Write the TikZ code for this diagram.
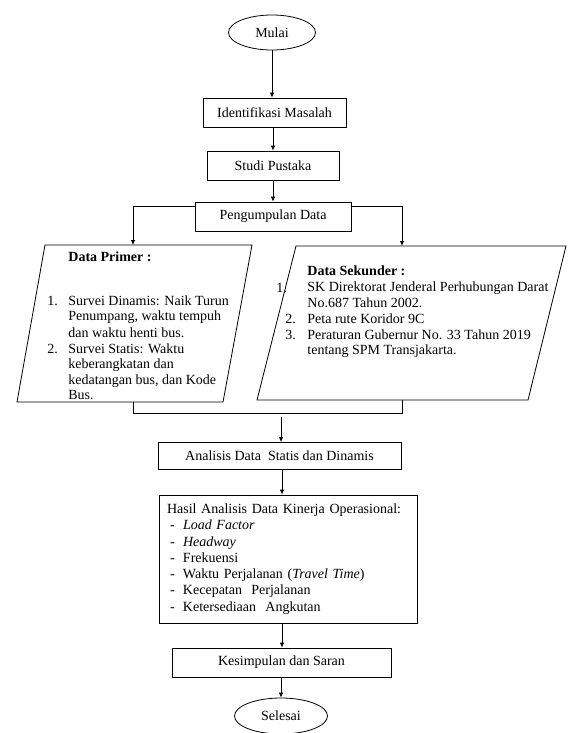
\documentclass[tikz,border=0pt]{standalone}
\usepackage{fontspec}
\setmainfont{Liberation Serif}
\usetikzlibrary{arrows.meta,shapes.geometric,calc}
\begin{document}
\begin{tikzpicture}[x=1pt,y=-1pt,
  font=\fontsize{14}{16}\selectfont,
  line width=0.8pt,
  arr/.style={-{Latex[length=5pt,width=4.5pt]}},
  procbox/.style={draw, rectangle, inner sep=0pt},
  term/.style={draw, ellipse, inner sep=0pt},
  txt/.style={anchor=west, inner sep=0pt}]
\useasboundingbox (0,0) rectangle (568,733);
\begin{scope}
\clip (0,0) rectangle (568,733);
% terminals and boxes
\node[term, minimum width=87pt, minimum height=35pt] (mulai) at (272,32.5) {Mulai};
\node[procbox, minimum width=143pt, minimum height=29pt] (ident) at (274.5,112.5) {Identifikasi Masalah};
\node[procbox, minimum width=132pt, minimum height=29pt] (studi) at (273,165.5) {Studi Pustaka};
\node[procbox, minimum width=156pt, minimum height=29pt] (peng) at (273,216.5) {Pengumpulan Data};

% parallelograms
\coordinate (p1) at (45,245); \coordinate (p2) at (252,245);
\coordinate (p3) at (223,402); \coordinate (p4) at (17,402);
\draw (p1) -- (p2) -- (p3) -- (p4) -- cycle;
\coordinate (s1) at (296,246); \coordinate (s2) at (566,246);
\coordinate (s3) at (528,400); \coordinate (s4) at (257,400);
\draw (s1) -- (s2) -- (s3) -- (s4) -- cycle;
\coordinate (primtop) at (133,245);
\coordinate (sektop) at (402,246);
\coordinate (primbot) at (133,402);
\coordinate (sekbot) at (402,400);
\coordinate (mergeL) at (133,413);
\coordinate (mergeR) at (402,413);
\coordinate (merge) at (281,413);

% primer text
\node[txt, font=\fontsize{14}{16}\bfseries] (primh) at (68,257) {Data Primer :};
\node[txt] (pn1) at (47,301) {1.};
\node[txt] (pl1) at (68,301) {Survei Dinamis: Naik Turun};
\node[txt] (pl2) at (68,317) {Penumpang, waktu tempuh};
\node[txt] (pl3) at (68,333) {dan waktu henti bus.};
\node[txt] (pn2) at (47,349) {2.};
\node[txt] (pl4) at (68,349) {Survei Statis: Waktu};
\node[txt] (pl5) at (68,365) {keberangkatan dan};
\node[txt] (pl6) at (68,381) {kedatangan bus, dan Kode};
\node[txt] (pl7) at (68,395) {Bus.};

% sekunder text
\node[txt, font=\fontsize{14}{16}\bfseries] (sekh) at (307,271) {Data Sekunder :};
\node[txt] (sn1) at (276,288) {1.};
\node[txt] (sl1) at (307,288) {SK Direktorat Jenderal Perhubungan Darat};
\node[txt] (sl2) at (307,303) {No.687 Tahun 2002.};
\node[txt] (sn2) at (285,319) {2.};
\node[txt] (sl3) at (307,319) {Peta rute Koridor 9C};
\node[txt] (sn3) at (285,335) {3.};
\node[txt] (sl4) at (307,335) {Peraturan Gubernur No. 33 Tahun 2019};
\node[txt] (sl5) at (307,351) {tentang SPM Transjakarta.};

\node[procbox, minimum width=243pt, minimum height=27pt] (anal) at (279.5,456) {Analisis Data\ \ Statis dan Dinamis};
\node[procbox, minimum width=258pt, minimum height=128pt, text width=242pt, align=left,
  font=\fontsize{14}{16.3}\selectfont] (hasil) at (288,559)
  {Hasil Analisis Data Kinerja Operasional:\\
   \makebox[16pt][l]{\hspace{3pt}-}\textit{Load Factor}\\
   \makebox[16pt][l]{\hspace{3pt}-}\textit{Headway}\\
   \makebox[16pt][l]{\hspace{3pt}-}Frekuensi\\
   \makebox[16pt][l]{\hspace{3pt}-}Waktu Perjalanan (\textit{Travel Time})\\
   \makebox[16pt][l]{\hspace{3pt}-}Kecepatan\ \ Perjalanan\\
   \makebox[16pt][l]{\hspace{3pt}-}Ketersediaan\ \ Angkutan};
\node[procbox, minimum width=219pt, minimum height=29pt] (kes) at (281.5,662.5) {Kesimpulan dan Saran};
\node[term, minimum width=93pt, minimum height=36pt] (selesai) at (281,716) {Selesai};

% connectors
\draw[arr] (mulai.south) -- (mulai.south |- ident.north);
\draw[arr] (273,0 |- ident.south) -- (273,0 |- studi.north);
\draw[arr] (studi.south) -- (studi.south |- peng.north);
\draw[arr] ($(peng.north west)+(0,5)$) -| (primtop);
\draw[arr] ($(peng.north east)+(0,5)$) -| (sektop);
\draw (primbot) -- (mergeL) -- (mergeR) -- (sekbot);
\draw[arr, shorten <=4pt] (merge) -- (merge |- anal.north);
\draw[arr] (282,0 |- anal.south) -- (282,0 |- hasil.north);
\draw[arr] (282,0 |- hasil.south) -- (282,0 |- kes.north);
\draw[arr] (281,0 |- kes.south) -- (selesai.north);
\end{scope}
\end{tikzpicture}
\end{document}
